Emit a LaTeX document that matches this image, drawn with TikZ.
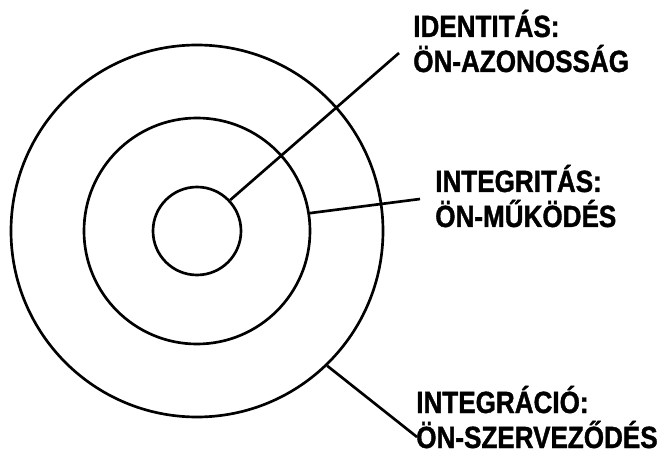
\documentclass[tikz,border=0pt]{standalone}
\usepackage{fontspec}
\newfontfamily\labelfont[FakeStretch=0.85,FakeBold=1.2]{Liberation Sans Bold}
\begin{document}
\begin{tikzpicture}[x=0.75pt,y=-0.75pt]
	\tikzstyle{every node}+=[inner sep=0pt]
	\tikzstyle{ring}=[draw=black,circle,line width=2pt]
	\tikzstyle{caption}=[anchor=base west,align=left,font=\labelfont\fontsize{23}{26.25}\selectfont]
	\useasboundingbox (0,0) rectangle (665,456);
	\node [ring,minimum size=279pt] (outer) at (197,231) {};
	\node [ring,minimum size=169.5pt] (middle) at (197,231) {};
	\node [ring,minimum size=66pt] (inner) at (197,231) {};
	\node [caption] (ident) at (413,72) {IDENTITÁS:\\ÖN-AZONOSSÁG};
	\node [caption] (integr) at (435,227) {INTEGRITÁS:\\ÖN-MŰKÖDÉS};
	\node [caption] (integra) at (416,448) {INTEGRÁCIÓ:\\ÖN-SZERVEZŐDÉS};
	\coordinate (identend) at (399,53);
	\coordinate (integrend) at (420,199);
	\coordinate (integraend) at (417,437);
	\draw [black,line width=2pt] (inner.43) -- (identend);
	\draw [black,line width=2pt] (middle.9) -- (integrend);
	\draw [black,line width=2pt] (outer.-46) -- (integraend);
\end{tikzpicture}
\end{document}
